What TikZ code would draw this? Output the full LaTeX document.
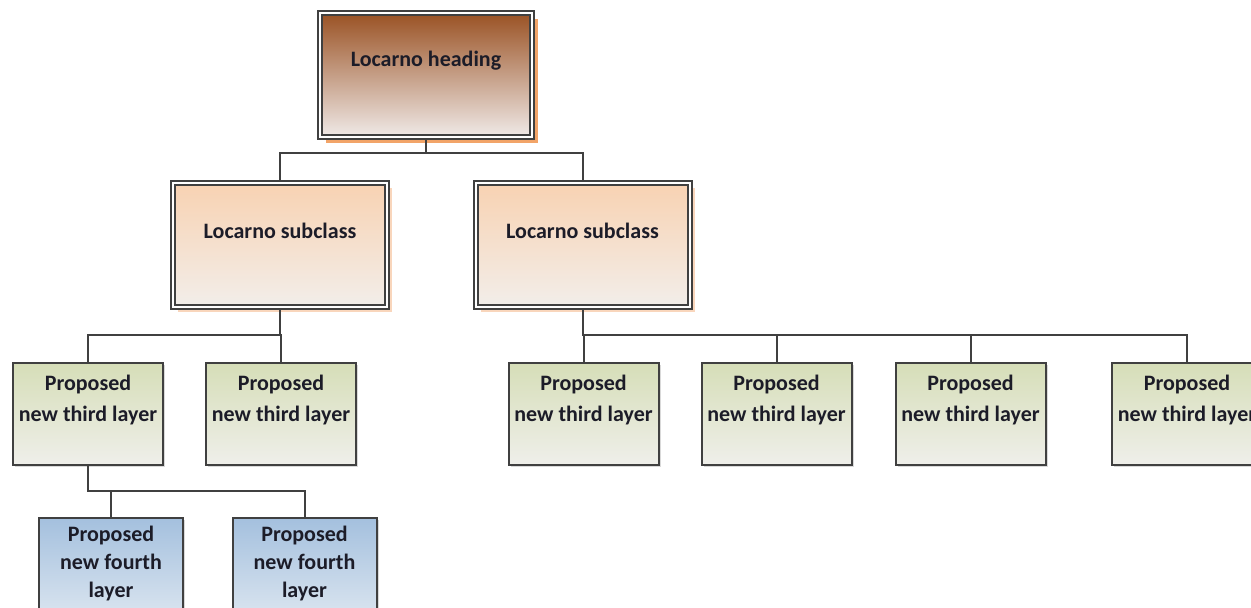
\documentclass[tikz,border=0pt]{standalone}
\usepackage{fontspec}
\setmainfont{Carlito}
\usetikzlibrary{shadows}
\definecolor{linegray}{HTML}{404040}
\definecolor{headtop}{HTML}{9A5224}
\definecolor{headbot}{HTML}{F0EAE8}
\definecolor{subtop}{HTML}{F8D2B2}
\definecolor{subbot}{HTML}{F2EEEA}
\definecolor{thirdtop}{HTML}{D6DEB8}
\definecolor{thirdbot}{HTML}{EFEFEA}
\definecolor{fourthtop}{HTML}{A4C0DE}
\definecolor{fourthbot}{HTML}{DCE6F0}
\definecolor{headshadow}{HTML}{F2A468}
\definecolor{subshadow}{HTML}{F9D6BC}
\definecolor{txt}{HTML}{1C1C28}
\tikzset{
  dblbox/.style={draw=linegray, line width=2pt, double=white, double distance=2pt, inner sep=0pt},
  headbox/.style={dblbox, top color=headtop, bottom color=headbot, minimum width=212pt, minimum height=124pt,
    drop shadow={shadow xshift=6pt, shadow yshift=-6pt, fill=headshadow, opacity=1}},
  subbox/.style={dblbox, top color=subtop, bottom color=subbot, minimum width=214pt, minimum height=124pt,
    drop shadow={shadow xshift=5pt, shadow yshift=-5pt, fill=subshadow, opacity=1}},
  thirdbox/.style={draw=linegray, line width=2pt, top color=thirdtop, bottom color=thirdbot, minimum width=150pt, minimum height=102pt, inner sep=0pt,
    drop shadow={shadow xshift=2pt, shadow yshift=-2pt, fill=black!15, opacity=1}},
  fourthbox/.style={draw=linegray, line width=2pt, top color=fourthtop, bottom color=fourthbot, minimum width=144pt, minimum height=102pt, inner sep=0pt,
    drop shadow={shadow xshift=2pt, shadow yshift=-2pt, fill=black!15, opacity=1}},
  lbl/.style={font=\fontsize{22}{30.5}\selectfont\bfseries, text=txt, align=center, inner sep=0pt},
  lblf/.style={lbl, font=\fontsize{22}{28}\selectfont\bfseries},
  conn/.style={draw=linegray, line width=2pt},
}
\begin{document}
\begin{tikzpicture}[x=1pt,y=-1pt]
\useasboundingbox (0,0) rectangle (1251,608);
\clip (0,0) rectangle (1251,608);
\fill[white] (0,0) rectangle (1251,608);
% boxes
\node[headbox] (h) at (426,75) {};
\node[subbox] (s1) at (280,245) {};
\node[subbox] (s2) at (582.5,245) {};
\node[thirdbox] (t1) at (88,414) {};
\node[thirdbox] (t2) at (281,414) {};
\node[thirdbox] (t3) at (583.5,414) {};
\node[thirdbox] (t4) at (776.5,414) {};
\node[thirdbox] (t5) at (970.5,414) {};
\node[thirdbox] (t6) at (1187,414) {};
\node[fourthbox] (f1) at (111,569) {};
\node[fourthbox] (f2) at (304.5,569) {};
% junction levels
\coordinate (r1) at (0,153);
\coordinate (r2) at (0,335);
\coordinate (r4) at (0,491);
\coordinate (j1) at (h.south |- r1);
\coordinate (j2) at (s1.south |- r2);
\coordinate (j3) at (s2.south |- r2);
\coordinate (j4) at (t1.south |- r4);
% connector lines
\draw[conn] (h.south) -- (j1);
\draw[conn] (j1) -| (s1.north);
\draw[conn] (j1) -| (s2.north);
\draw[conn] (s1.south) -- (j2) -| (t1.north);
\draw[conn] (j2) -| (t2.north);
\draw[conn] (s2.south) -- (j3) -| (t3.north);
\draw[conn] (j3) -| (t4.north);
\draw[conn] (j3) -| (t5.north);
\draw[conn] (j3) -| (t6.north);
\draw[conn] (t1.south) -- (j4) -| (f1.north);
\draw[conn] (j4) -| (f2.north);
% labels
\node[lbl] (lh) at (426,61) {Locarno heading};
\node[lbl] (ls1) at (280,231) {Locarno subclass};
\node[lbl] (ls2) at (582.5,231) {Locarno subclass};
\node[lbl] (lt1) at (88,400) {Proposed\\new third layer};
\node[lbl] (lt2) at (281,400) {Proposed\\new third layer};
\node[lbl] (lt3) at (583.5,400) {Proposed\\new third layer};
\node[lbl] (lt4) at (776.5,400) {Proposed\\new third layer};
\node[lbl] (lt5) at (970.5,400) {Proposed\\new third layer};
\node[lbl] (lt6) at (1187,400) {Proposed\\new third layer};
\node[lblf] (lf1) at (111,564) {Proposed\\new fourth\\layer};
\node[lblf] (lf2) at (304.5,564) {Proposed\\new fourth\\layer};
\end{tikzpicture}
\end{document}
